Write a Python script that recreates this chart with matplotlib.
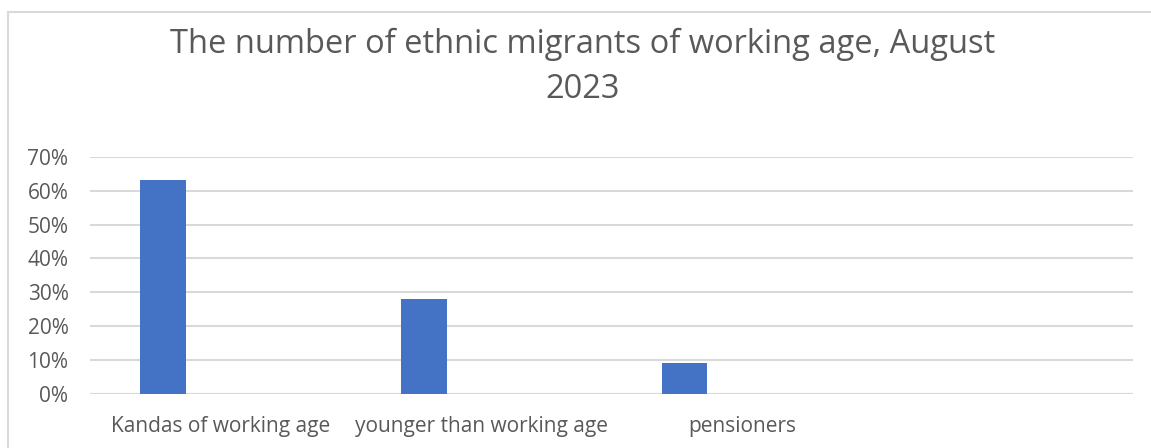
import matplotlib
matplotlib.use("Agg")
import matplotlib.pyplot as plt
from matplotlib.patches import Rectangle
from matplotlib.ticker import PercentFormatter

categories = ["Kandas of working age", "younger than working age", "pensioners", ""]
shares = [0.63, 0.28, 0.09, None]
yticks = [0.0, 0.1, 0.2, 0.3, 0.4, 0.5, 0.6, 0.7]
title = "The number of ethnic migrants of working age, August\n2023"

plt.rcParams['font.family'] = ['Open Sans', 'DejaVu Sans']
text_color = "#595959"
grid_color = "#d9d9d9"
bar_color = "#4472C4"

W, H = 1151, 448
fig = plt.figure(figsize=(W / 100, H / 100), dpi=100)

# chart area border (left and top visible)
fig.patches.append(Rectangle((8 / W, -0.1), 1.2, (H - 12) / H + 0.1, transform=fig.transFigure,
                             fill=False, edgecolor="#d9d9d9", linewidth=1.5))

left, right, top, bottom = 90, 1133, 156.7, 394
ax = fig.add_axes([left / W, 1 - bottom / H, (right - left) / W, (bottom - top) / H])

idx = [i for i, v in enumerate(shares) if v is not None]
vals = [shares[i] for i in idx]
ax.bar([i - 0.22 for i in idx], vals, width=0.176, color=bar_color, zorder=3)

ax.set_xlim(-0.5, len(categories) - 0.5)
ax.set_ylim(0, 0.7)
ax.set_yticks(yticks)
ax.yaxis.set_major_formatter(PercentFormatter(1.0, decimals=0))
ax.set_xticks(range(len(categories)))
ax.set_xticklabels(categories)
ax.grid(axis="y", color=grid_color, linewidth=1.5, zorder=0)
for s in ax.spines.values():
    s.set_visible(False)
ax.axhline(0, color=grid_color, linewidth=1.5, zorder=1)
ax.tick_params(axis="both", length=0, colors=text_color)
ax.tick_params(axis="y", pad=15.5, labelsize=15)
ax.tick_params(axis="x", pad=16, labelsize=15)

fig.text(583 / W, 1 - 67 / H, title, ha="center", va="center", fontsize=23.5,
         color=text_color, linespacing=1.48)

fig.savefig("out.png", dpi=100)
